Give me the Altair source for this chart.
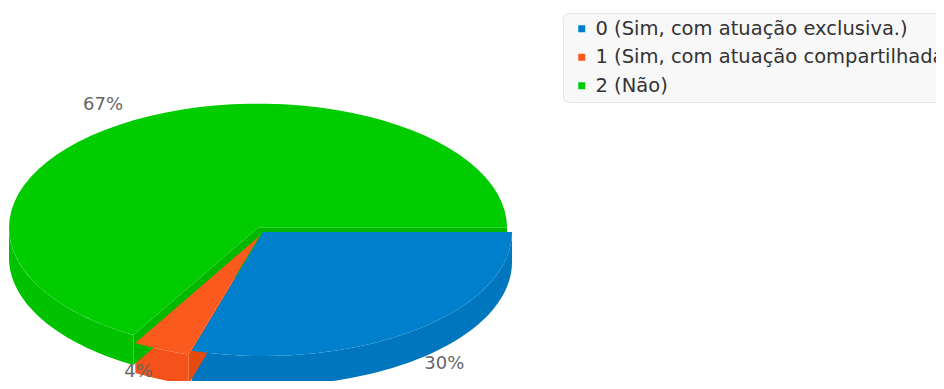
import altair as alt
import pandas as pd

# ---- data ----
categories = ["0 (Sim, com atuação exclusiva.)",
              "1 (Sim, com atuação compartilhada.)",
              "2 (Não)"]
values = [8, 1, 18]
labels = ["30%", "4%", "67%"]

# ---- styles / layout ----
TOP_COLORS = ["#0080cc", "#fa5a1e", "#00cc00"]
WALL_COLORS = ["#0076bf", "#f4521a", "#00c200"]
RADIAL_COLORS = ["#006fb3", "#e54a0e", "#00b800"]
EXPLODE = [0, 8, 10]
W, H = 928, 373
CX, CY, RX, RY, D = 255, 224, 249, 124, 30
LABEL_R = 270

df = pd.DataFrame({"categoria": categories, "valor": values,
                   "rotulo": labels, "ordem": list(range(len(values)))})

explode_expr = " : ".join(
    f"datum.ordem == {i} ? {e}" for i, e in enumerate(EXPLODE)) + " : 0"

base = (
    alt.Chart(df)
    .transform_joinaggregate(total="sum(valor)")
    .transform_window(cum="sum(valor)", sort=[alt.SortField("ordem")], frame=[None, 0])
    .transform_calculate(
        a0="2*PI*(datum.cum - datum.valor)/datum.total",
        a1="2*PI*datum.cum/datum.total",
    )
    .transform_calculate(
        mid="(datum.a0 + datum.a1)/2",
        off=explode_expr,
    )
    .transform_calculate(
        ox=f"{CX} + datum.off*cos(datum.mid)",
        oy=f"{CY} + datum.off*{RY/RX}*sin(datum.mid)",
    )
)

xenc = alt.X("px:Q", scale=alt.Scale(domain=[0, W], nice=False, zero=False), axis=None)
yenc = alt.Y("py:Q", scale=alt.Scale(domain=[0, H], nice=False, zero=False, reverse=True), axis=None)

# outer (front) walls
walls = (
    base.transform_calculate(b0="max(datum.a0, 0)", b1="min(datum.a1, PI)")
    .transform_filter("datum.b1 > datum.b0")
    .transform_calculate(pts="sequence(0, 122)")
    .transform_flatten(["pts"])
    .transform_calculate(
        k="datum.pts < 61 ? datum.pts : 121 - datum.pts",
    )
    .transform_calculate(
        ang="datum.b0 + (datum.b1 - datum.b0)*datum.k/60",
    )
    .transform_calculate(
        px=f"datum.ox + {RX}*cos(datum.ang)",
        py=f"datum.oy + {RY}*sin(datum.ang) + (datum.pts < 61 ? 0 : {D})",
    )
    .mark_line(filled=True, strokeWidth=0)
    .encode(x=xenc, y=yenc, order=alt.Order("pts:Q"),
            color=alt.Color("categoria:N", scale=alt.Scale(domain=categories, range=WALL_COLORS), legend=None))
)

# radial (cut) walls
radial = (
    base.transform_calculate(sides="[0, 1]")
    .transform_flatten(["sides"])
    .transform_calculate(ang="datum.sides == 0 ? datum.a0 : datum.a1")
    .transform_filter("datum.sides == 0 ? cos(datum.ang) < -0.001 : cos(datum.ang) > 0.001")
    .transform_calculate(pts="[0, 1, 2, 3]")
    .transform_flatten(["pts"])
    .transform_calculate(
        px=f"datum.ox + ((datum.pts == 1 || datum.pts == 2) ? {RX}*cos(datum.ang) : 0)",
        py=f"datum.oy + ((datum.pts == 1 || datum.pts == 2) ? {RY}*sin(datum.ang) : 0) + (datum.pts >= 2 ? {D} : 0)",
    )
    .mark_line(filled=True, strokeWidth=0)
    .encode(x=xenc, y=yenc, order=alt.Order("pts:Q"), detail="sides:N",
            color=alt.Color("categoria:N", scale=alt.Scale(domain=categories, range=RADIAL_COLORS), legend=None))
)

# top faces
tops = (
    base.transform_calculate(pts="sequence(0, 62)")
    .transform_flatten(["pts"])
    .transform_calculate(ang="datum.a0 + (datum.a1 - datum.a0)*(datum.pts - 1)/60")
    .transform_calculate(
        px=f"datum.pts == 0 ? datum.ox : datum.ox + {RX}*cos(datum.ang)",
        py=f"datum.pts == 0 ? datum.oy : datum.oy + {RY}*sin(datum.ang)",
    )
    .mark_line(filled=True, strokeWidth=0)
    .encode(
        x=xenc, y=yenc, order=alt.Order("pts:Q"),
        color=alt.Color(
            "categoria:N",
            scale=alt.Scale(domain=categories, range=TOP_COLORS),
            legend=alt.Legend(
                title=None, orient="none", legendX=555, legendY=5,
                direction="vertical", symbolType="square", symbolSize=49,
                symbolStrokeWidth=0, labelFontSize=19.5, labelFont="DejaVu Sans",
                labelColor="#333333", labelLimit=600, padding=6, rowPadding=7.5,
                symbolOffset=3, labelOffset=4, fillColor="#f8f8f8",
                strokeColor="#e6e6e6", cornerRadius=5,
            ),
        ),
    )
)

# percentage labels (left side right-aligned, right side left-aligned)
label_pos = base.transform_calculate(
    px=f"datum.ox + {LABEL_R}*cos(datum.mid)",
    py=f"min(datum.oy + ({RY}+8)*sin(datum.mid) + (sin(datum.mid) > 0 ? {D} - 4 : -8), {H} - 9)",
)
text_left = (
    label_pos.transform_filter("cos(datum.mid) < 0")
    .mark_text(font="DejaVu Sans", fontSize=18, color="#666666", align="right", baseline="middle")
    .encode(x=xenc, y=yenc, text="rotulo:N")
)
text_right = (
    label_pos.transform_filter("cos(datum.mid) >= 0")
    .mark_text(font="DejaVu Sans", fontSize=18, color="#666666", align="left", baseline="middle")
    .encode(x=xenc, y=yenc, text="rotulo:N")
)

chart = (
    alt.layer(walls, radial, tops, text_left, text_right)
    .resolve_scale(color="independent")
    .properties(width=W, height=H, autosize=alt.AutoSizeParams(type="none"), padding=0)
    .configure_view(stroke=None)
)

chart.save("out.html", embed_options={"renderer": "svg", "actions": False})
